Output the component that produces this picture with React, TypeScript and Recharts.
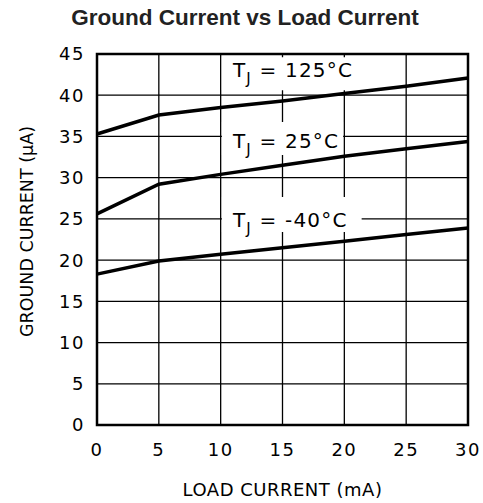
import { LineChart, Line, XAxis, YAxis, CartesianGrid, ReferenceArea } from "recharts";

// values (µA vs mA)
const loadCurrent = [0, 5, 10, 15, 20, 25, 30];
const ground125 = [35.3, 37.6, 38.5, 39.3, 40.2, 41.1, 42.1];
const ground25 = [25.6, 29.2, 30.4, 31.5, 32.6, 33.5, 34.4];
const groundM40 = [18.3, 19.9, 20.7, 21.5, 22.3, 23.1, 23.9];

const xTicks = [0, 5, 10, 15, 20, 25, 30];
const yTicks = [0, 5, 10, 15, 20, 25, 30, 35, 40, 45];

const data = loadCurrent.map((x, i) => ({
  x,
  t125: ground125[i],
  t25: ground25[i],
  tm40: groundM40[i],
}));

const font = "'DejaVu Sans', sans-serif";

function TjLabel(props: any) {
  const { viewBox, temp, dx, dy } = props;
  if (!viewBox) return null;
  return (
    <text
      x={viewBox.x + dx}
      y={viewBox.y + dy}
      fontFamily={font}
      fontSize={20}
      letterSpacing={1.2}
      fill="#000"
      style={{ whiteSpace: "pre" }}
    >
      <tspan>T</tspan>
      <tspan fontSize={15} dy={7}>J</tspan>
      <tspan dy={-7}>{" = " + temp}</tspan>
    </text>
  );
}

export default function App() {
  return (
    <div style={{ position: "relative", width: 483, height: 503 }}>
      <style>{"body{margin:0;overflow:hidden}"}</style>
      <div
        style={{
          position: "absolute",
          top: 7,
          left: 0,
          width: 490,
          textAlign: "center",
          fontFamily: "'Liberation Sans', Arial, sans-serif",
          fontWeight: "bold",
          fontSize: 22.5,
          lineHeight: "22px",
          color: "#222",
        }}
      >
        Ground Current vs Load Current
      </div>
      <LineChart
        width={483}
        height={503}
        data={data}
        margin={{ top: 54, right: 15, bottom: 0, left: 0 }}
      >
        <CartesianGrid stroke="#000" strokeWidth={1.3} zIndex={-100} />
        <XAxis
          dataKey="x"
          type="number"
          domain={[0, 30]}
          ticks={xTicks}
          height={78}
          tickLine={false}
          tickSize={0}
          tickMargin={18}
          axisLine={false}
          tick={{ fill: "#000", fontFamily: font, fontSize: 18, letterSpacing: 1.5 }}
          label={{
            content: ({ viewBox }: any) => (
              <text
                x={viewBox.x + viewBox.width / 2}
                y={viewBox.y + 71}
                textAnchor="middle"
                fontFamily={font}
                fontSize={18}
                letterSpacing={0.5}
                fill="#000"
              >
                LOAD CURRENT (mA)
              </text>
            ),
          }}
        />
        <YAxis
          type="number"
          domain={[0, 45]}
          ticks={yTicks}
          width={97}
          tickLine={false}
          tickSize={0}
          tickMargin={12}
          axisLine={false}
          tick={{ fill: "#000", fontFamily: font, fontSize: 18, letterSpacing: 1.5 }}
          label={{
            content: ({ viewBox }: any) => {
              const cx = 27;
              const cy = viewBox.y + viewBox.height / 2 - 8;
              return (
                <text
                  x={cx}
                  y={cy}
                  transform={`rotate(-90 ${cx} ${cy})`}
                  textAnchor="middle"
                  dominantBaseline="central"
                  fontFamily={font}
                  fontSize={17.5}
                  fill="#000"
                >
                  GROUND CURRENT (μA)
                </text>
              );
            },
          }}
        />
        <ReferenceArea
          x1={10.1}
          x2={21}
          y1={40.6}
          y2={44.6}
          fill="#fff"
          fillOpacity={1}
          stroke="none"
          zIndex={350}
          label={<TjLabel temp="125°C" dx={11} dy={20} />}
        />
        <ReferenceArea
          x1={10.1}
          x2={19.9}
          y1={32.75}
          y2={36.75}
          fill="#fff"
          fillOpacity={1}
          stroke="none"
          zIndex={350}
          label={<TjLabel temp="25°C" dx={11} dy={26} />}
        />
        <ReferenceArea
          x1={10.1}
          x2={21.4}
          y1={23.4}
          y2={27.65}
          fill="#fff"
          fillOpacity={1}
          stroke="none"
          zIndex={350}
          label={<TjLabel temp="-40°C" dx={11} dy={30} />}
        />
        <ReferenceArea
          x1={0}
          x2={30}
          y1={0}
          y2={45}
          fill="none"
          stroke="#000"
          strokeWidth={2.5}
          zIndex={360}
        />
        <Line dataKey="t125" stroke="#000" strokeWidth={3.5} dot={false} isAnimationActive={false} />
        <Line dataKey="t25" stroke="#000" strokeWidth={3.5} dot={false} isAnimationActive={false} />
        <Line dataKey="tm40" stroke="#000" strokeWidth={3.5} dot={false} isAnimationActive={false} />
      </LineChart>
    </div>
  );
}
